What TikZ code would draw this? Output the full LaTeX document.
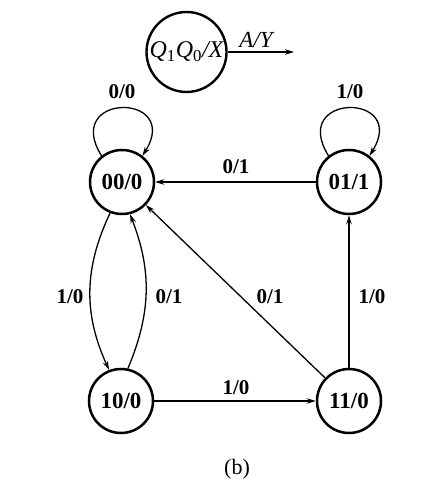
\documentclass[tikz,border=0pt]{standalone}
\usepackage{fontspec}
\setmainfont{Liberation Serif}
\usetikzlibrary{arrows.meta}
\begin{document}
\begin{tikzpicture}[x=1pt,y=1pt,
  state/.style={circle,draw,line width=2.5pt,minimum size=64pt,inner sep=0pt,
    font=\fontsize{23}{23}\selectfont\bfseries},
  legendstate/.style={circle,draw,line width=2.4pt,minimum size=80pt,inner sep=0pt,
    font=\fontsize{24}{24}\selectfont\itshape},
  lbl/.style={font=\fontsize{21}{21}\selectfont\bfseries,inner sep=0pt},
  edge/.style={line width=1.3pt,-{Stealth[length=9pt,width=5.5pt]}}]
\useasboundingbox (0,0) rectangle (443,487);
% legend
\node[legendstate] (leg) at (186.5,435) {Q\textsubscript{\upshape 1}Q\textsubscript{\upshape 0}/X};
\coordinate (legend-end) at (294,435);
\draw[edge] (leg.east) -- (legend-end);
\node[font=\fontsize{23}{23}\selectfont\itshape,inner sep=0pt] (ay) at (256,447) {A/Y};
% states
\node[state] (s00) at (122,305) {00/0};
\node[state] (s01) at (349,305) {01/1};
\node[state] (s10) at (121,86) {10/0};
\node[state] (s11) at (349,86) {11/0};
% self loops
\draw[edge] (s00.128) .. controls +(122:75) and +(58:75) .. (s00.52);
\draw[edge] (s01.128) .. controls +(122:75) and +(58:75) .. (s01.52);
\node[lbl] (l00) at (122,395) {0/0};
\node[lbl] (l01) at (350,395) {1/0};
% edges
\draw[edge] (s01) -- (s00);
\node[lbl] (l0100) at (236,320) {0/1};
\draw[edge] (s00.249) to[bend right=25] (s10.111);
\node[lbl] (l0010) at (70,190) {1/0};
\draw[edge] (s10.78) to[bend right=22] (s00.284);
\node[lbl] (l1000) at (169,190) {0/1};
\draw[edge] (s11) -- (s00);
\node[lbl] (l1100) at (270,190) {0/1};
\draw[edge] (s10) -- (s11);
\node[lbl] (l1011) at (236,99) {1/0};
\draw[edge] (s11) -- (s01);
\node[lbl] (l1101) at (372,190) {1/0};
% caption
\node[font=\fontsize{22}{22}\selectfont,inner sep=0pt] (cap) at (237,18) {(b)};
\end{tikzpicture}
\end{document}
